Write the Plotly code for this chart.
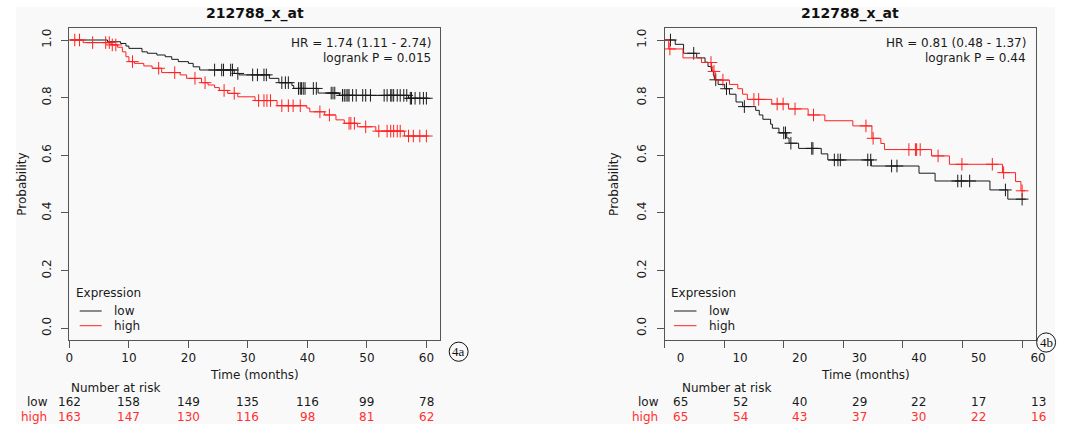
import bisect
import plotly.graph_objects as go

# ---------------- data ----------------
month_ticks = [0, 10, 20, 30, 40, 50, 60]
prob_ticks = [0.0, 0.2, 0.4, 0.6, 0.8, 1.0]
prob_labels = ["0.0", "0.2", "0.4", "0.6", "0.8", "1.0"]
title_a = "212788_x_at"
title_b = "212788_x_at"
hr_a = ["HR = 1.74 (1.11 - 2.74)", "logrank P = 0.015"]
hr_b = ["HR = 0.81 (0.48 - 1.37)", "logrank P = 0.44"]

# Panel 4a  (low = black, high = red)
a_low_t = [0, 6.4, 8.6, 9.5, 10.0, 12.2, 13.1, 14.7, 16.1, 17.2, 18.3, 20.0, 20.8, 21.9,
           27.7, 28.5, 33.6, 35.2, 37.4, 37.7, 41.8, 45.4, 57.0]
a_low_s = [1.0, 0.994, 0.988, 0.979, 0.971, 0.959, 0.954, 0.948, 0.942, 0.933, 0.925, 0.919,
           0.907, 0.896, 0.884, 0.879, 0.867, 0.852, 0.842, 0.832, 0.816, 0.808, 0.798]
a_low_end = 60.3
a_low_cens = [24.4, 25.6, 25.9, 27.1, 27.4, 28.3, 30.8, 31.6, 32.7, 33.1, 35.7, 36.3, 36.8,
              38.5, 38.8, 39.0, 39.3, 39.6, 41.0, 41.5, 44.0, 44.3, 44.6, 45.9, 46.2, 46.5,
              46.8, 47.0, 47.6, 48.2, 49.3, 49.8, 50.6, 52.9, 53.4, 54.0, 54.2, 54.5, 55.1,
              55.6, 56.2, 56.7, 57.3, 57.5, 58.1, 58.9, 59.5, 60.0]

a_high_t = [0, 2.3, 7.0, 8.1, 8.9, 9.5, 10.0, 10.9, 12.5, 13.9, 15.5, 18.6, 19.7, 22.2, 23.3,
            24.4, 25.2, 26.6, 28.3, 31.2, 34.9, 39.9, 40.4, 42.9, 44.8, 46.2, 48.4, 51.5, 56.3]
a_high_s = [1.0, 0.991, 0.983, 0.975, 0.959, 0.942, 0.925, 0.919, 0.910, 0.902, 0.887, 0.879,
            0.867, 0.852, 0.844, 0.835, 0.825, 0.815, 0.803, 0.790, 0.772, 0.764, 0.751, 0.740,
            0.723, 0.711, 0.699, 0.684, 0.667]
a_high_end = 60.4
a_high_cens = [0.9, 1.7, 3.9, 6.1, 6.7, 7.2, 7.8, 10.6, 15.0, 17.7, 21.1, 22.8, 26.0, 27.7,
               31.8, 32.7, 33.2, 33.8, 35.7, 36.8, 37.6, 38.8, 42.1, 43.7, 47.0, 47.3, 47.9,
               49.8, 52.0, 53.4, 54.0, 54.5, 55.1, 55.6, 57.0, 57.8, 58.9, 60.0]

a_risk_low = [162, 158, 149, 135, 116, 99, 78]
a_risk_high = [163, 147, 130, 116, 98, 81, 62]

# Panel 4b
b_low_t = [0, 1.8, 3.2, 5.4, 6.8, 7.3, 7.9, 8.2, 8.4, 9.0, 10.1, 10.9, 12.0, 13.1, 15.3, 15.9,
           16.5, 17.8, 18.1, 19.2, 20.5, 20.9, 22.5, 26.3, 27.4, 34.7, 42.7, 45.4, 54.6, 57.6]
b_low_s = [1.0, 0.985, 0.954, 0.938, 0.923, 0.908, 0.892, 0.877, 0.862, 0.846, 0.831, 0.812,
           0.785, 0.769, 0.756, 0.740, 0.725, 0.708, 0.694, 0.678, 0.660, 0.642, 0.624, 0.605,
           0.584, 0.563, 0.538, 0.511, 0.480, 0.448]
b_low_end = 60.6
b_low_cens = [1.0, 4.9, 8.6, 10.4, 13.4, 20.0, 20.3, 21.2, 24.7, 24.9, 28.5, 29.1, 29.5, 34.1,
              34.6, 38.1, 39.0, 49.2, 49.8, 51.2, 57.2, 60.0]

b_high_t = [0, 0.7, 3.1, 6.2, 7.9, 8.1, 8.5, 10.9, 12.3, 13.1, 13.9, 18.0, 20.8, 24.1, 26.9,
            31.6, 34.8, 36.3, 36.9, 44.8, 47.8, 56.7, 58.9, 59.8]
b_high_s = [1.0, 0.969, 0.938, 0.922, 0.907, 0.891, 0.861, 0.846, 0.831, 0.812, 0.794, 0.778,
            0.761, 0.740, 0.720, 0.702, 0.659, 0.641, 0.620, 0.598, 0.569, 0.540, 0.509, 0.477]
b_high_end = 60.5
b_high_cens = [0.9, 7.8, 8.3, 9.8, 15.0, 15.8, 18.9, 19.9, 21.9, 25.0, 33.8, 35.0, 41.0, 42.1,
               42.3, 42.9, 45.9, 49.9, 55.0, 56.9, 60.0]

b_risk_low = [65, 52, 40, 29, 22, 17, 13]
b_risk_high = [65, 54, 43, 37, 30, 22, 16]

# ---------------- styling ----------------
W, H = 1065, 424
FONT = "DejaVu Sans"
BLACK = "#1a1a1a"
RED = "#ff2020"
TXT = "#1a1a1a"
RED_TXT = "#ff3030"
AX = "#555555"


def fx(p):
    return p / W


def fy(p):
    return 1 - p / H


fig = go.Figure()


def add_km(t, s, end, cens, color, xa, ya):
    xs = list(t) + [end]
    ys = list(s) + [s[-1]]
    fig.add_trace(go.Scatter(x=xs, y=ys, mode="lines", xaxis=xa, yaxis=ya,
                             line=dict(color=color, width=1, shape="hv"),
                             showlegend=False, hoverinfo="skip"))
    cy = [s[bisect.bisect_right(t, c) - 1] for c in cens]
    fig.add_trace(go.Scatter(x=cens, y=cy, mode="markers", xaxis=xa, yaxis=ya,
                             marker=dict(symbol="cross-thin", size=9,
                                         line=dict(color=color, width=1)),
                             showlegend=False, hoverinfo="skip"))


add_km(a_low_t, a_low_s, a_low_end, a_low_cens, BLACK, "x", "y")
add_km(a_high_t, a_high_s, a_high_end, a_high_cens, RED, "x", "y")
add_km(b_low_t, b_low_s, b_low_end, b_low_cens, BLACK, "x2", "y2")
add_km(b_high_t, b_high_s, b_high_end, b_high_cens, RED, "x2", "y2")

xcommon = dict(range=[0, 62.32], showline=True, mirror=True, linecolor=AX, linewidth=1,
               ticks="outside", ticklen=7, tickcolor=AX, tickwidth=1, showgrid=False,
               zeroline=False, tickvals=month_ticks, ticktext=[str(v) for v in month_ticks],
               tickfont=dict(family=FONT, size=12, color=TXT), fixedrange=True)
ycommon = dict(range=[-0.0388, 1.0427], showline=True, mirror=True, linecolor=AX, linewidth=1,
               ticks="outside", ticklen=7, tickcolor=AX, tickwidth=1, showgrid=False,
               zeroline=False, tickvals=prob_ticks, ticktext=prob_labels, tickangle=-90,
               ticklabelstandoff=6,
               tickfont=dict(family=FONT, size=12, color=TXT), fixedrange=True,
               domain=[fy(339.5), fy(27.7)])

fig.update_layout(
    width=W, height=H, margin=dict(l=0, r=0, t=0, b=0),
    paper_bgcolor="white", plot_bgcolor="rgba(0,0,0,0)",
    xaxis=dict(xcommon, domain=[fx(66.3), fx(442.0)], anchor="y"),
    yaxis=dict(ycommon, anchor="x"),
    xaxis2=dict(xcommon, domain=[fx(669.3), fx(1045.7)], anchor="y2", ticklabelshift=16),
    yaxis2=dict(ycommon, anchor="x2"),
    showlegend=False,
)

shapes = [dict(type="rect", xref="paper", yref="paper", x0=fx(12), x1=1, y0=0, y1=fy(7),
               fillcolor="#f9f9f9", line=dict(width=0), layer="below")]
ann = []


def text(x, y, s, size=12, color=TXT, xanchor="center", family=FONT, angle=0, **kw):
    ann.append(dict(x=fx(x), y=fy(y), xref="paper", yref="paper", text=s, showarrow=False,
                    xanchor=xanchor, yanchor="middle", textangle=angle,
                    font=dict(family=family, size=size, color=color), **kw))


panels = [
    dict(title=title_a, tx=254.7, hr=hr_a, hrx=434.7, xlab=253.7, ylab=18,
         leg=71, lx0=76.7, lx1=99, ltx=109, nar=65.7, rowx=46.7, xref="x", shift=0,
         rl=a_risk_low, rh=a_risk_high),
    dict(title=title_b, tx=857.5, hr=hr_b, hrx=1037.7, xlab=873, ylab=618,
         leg=674.3, lx0=679, lx1=701.7, ltx=712.3, nar=685, rowx=665.7, xref="x2", shift=16,
         rl=b_risk_low, rh=b_risk_high),
]

for p in panels:
    text(p["tx"], 13, "<b>%s</b>" % p["title"], size=14, color="#111")
    text(p["hrx"], 43.3, p["hr"][0], xanchor="right")
    text(p["hrx"], 58.3, p["hr"][1], xanchor="right")
    text(p["xlab"], 375, "Time (months)")
    text(p["ylab"], 184, "Probability", angle=-90)
    # legend
    text(p["leg"], 292.7, "Expression", xanchor="left")
    text(p["ltx"], 311, "low", xanchor="left")
    text(p["ltx"], 325.7, "high", xanchor="left")
    shapes.append(dict(type="line", xref="paper", yref="paper", x0=fx(p["lx0"]), x1=fx(p["lx1"]),
                       y0=fy(311), y1=fy(311), line=dict(color=BLACK, width=1)))
    shapes.append(dict(type="line", xref="paper", yref="paper", x0=fx(p["lx0"]), x1=fx(p["lx1"]),
                       y0=fy(325.7), y1=fy(325.7), line=dict(color=RED, width=1)))
    # number at risk
    text(p["nar"], 388, "Number at risk", xanchor="left")
    text(p["rowx"], 402.3, "low", xanchor="right")
    text(p["rowx"] - 0.7, 417.3, "high", xanchor="right", color=RED_TXT)
    for m, lo, hi in zip(month_ticks, p["rl"], p["rh"]):
        ann.append(dict(x=m, y=fy(402.3), xref=p["xref"], yref="paper", text=str(lo),
                        showarrow=False, xanchor="center", yanchor="middle", xshift=p["shift"],
                        font=dict(family=FONT, size=12, color=TXT)))
        ann.append(dict(x=m, y=fy(417.3), xref=p["xref"], yref="paper", text=str(hi),
                        showarrow=False, xanchor="center", yanchor="middle", xshift=p["shift"],
                        font=dict(family=FONT, size=12, color=RED_TXT)))

# figure labels "4a" / "4b"
for cx, cy, lab in [(460.7, 351.7, "4a"), (1056.0, 342.5, "4b")]:
    r = 9.6
    shapes.append(dict(type="circle", xref="paper", yref="paper", x0=fx(cx - r), x1=fx(cx + r),
                       y0=fy(cy + r), y1=fy(cy - r), line=dict(color="#111", width=1)))
    text(cx, cy, lab, size=13, color="#111", family="Liberation Serif")

fig.update_layout(shapes=shapes, annotations=ann)
fig.write_html(
    "out.html",
    config={"displayModeBar": False},
    post_script="document.body.style.margin='0';document.body.style.padding='0';"
                "document.body.style.overflow='hidden';"
                "document.documentElement.style.overflow='hidden';",
)
